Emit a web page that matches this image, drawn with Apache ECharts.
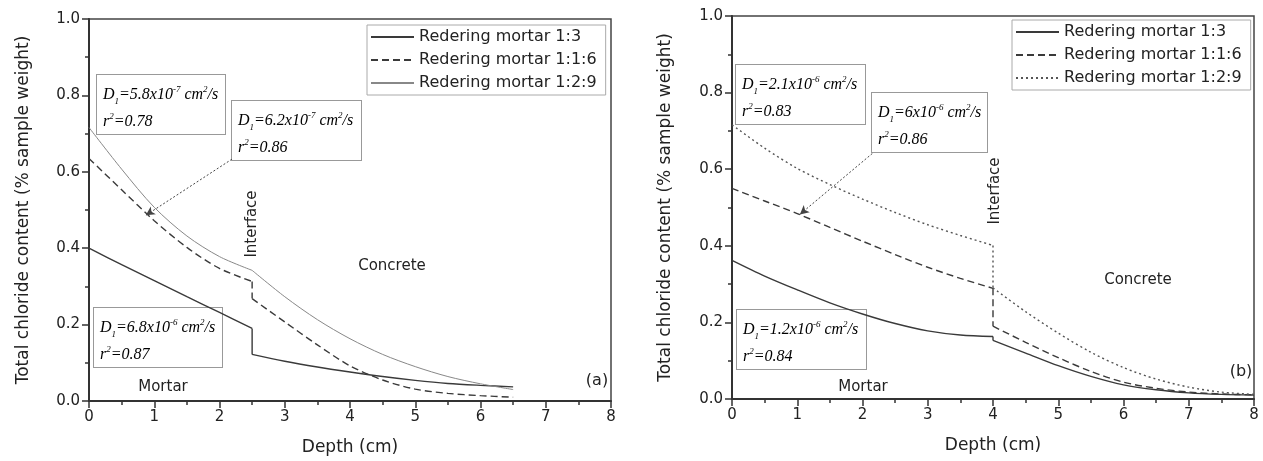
<!DOCTYPE html>
<html>
<head>
<meta charset="utf-8">
<script src="https://cdn.jsdelivr.net/npm/echarts@6/dist/echarts.min.js"></script>
<style>
  html, body { margin: 0; padding: 0; background: #fff; }
  #chart { width: 1263px; height: 461px; }
</style>
</head>
<body>
<div id="chart"></div>
<script>
// values (depth in cm, chloride in % sample weight)
// the repeated depth is the mortar/concrete interface
const depthA = [0, 0.5, 1, 1.5, 2, 2.5, 2.5, 3, 3.5, 4, 4.5, 5, 5.5, 6, 6.5];
const mortar13A  = [0.400, 0.357, 0.315, 0.273, 0.232, 0.190, 0.122, 0.104, 0.089, 0.076, 0.064, 0.054, 0.046, 0.041, 0.037];
const mortar116A = [0.635, 0.553, 0.472, 0.402, 0.347, 0.313, 0.268, 0.207, 0.147, 0.092, 0.055, 0.031, 0.020, 0.014, 0.010];
const mortar129A = [0.716, 0.607, 0.507, 0.432, 0.378, 0.342, 0.342, 0.273, 0.213, 0.163, 0.122, 0.090, 0.064, 0.045, 0.030];

const depthB = [0, 0.5, 1, 1.5, 2, 2.5, 3, 3.5, 4, 4, 4.5, 5, 5.5, 6, 6.5, 7, 7.5, 8];
const mortar13B  = [0.362, 0.321, 0.285, 0.251, 0.222, 0.197, 0.178, 0.167, 0.163, 0.153, 0.120, 0.087, 0.059, 0.037, 0.024, 0.016, 0.012, 0.010];
const mortar116B = [0.550, 0.517, 0.484, 0.448, 0.412, 0.377, 0.344, 0.315, 0.289, 0.190, 0.148, 0.108, 0.072, 0.044, 0.028, 0.018, 0.013, 0.011];
const mortar129B = [0.716, 0.655, 0.602, 0.560, 0.522, 0.487, 0.455, 0.427, 0.401, 0.290, 0.228, 0.172, 0.122, 0.082, 0.052, 0.031, 0.018, 0.012];

const seriesNames = ['Redering mortar 1:3', 'Redering mortar 1:1:6', 'Redering mortar 1:2:9'];
const yTickLabels = ['0.0', '0.2', '0.4', '0.6', '0.8', '1.0'];

// arrow from the middle box to the 1:1:6 curve, [x, y] in data units
const arrowA = [[2.19, 0.633], [0.87, 0.486]];
const arrowB = [[2.15, 0.641], [1.04, 0.482]];

const SANS = 'DejaVu Sans';
const SERIF = 'Liberation Serif';
const INK = '#222';

const lineStyles = [
  { color: '#3a3a3a', width: 1.4, type: 'solid' },
  { color: '#3a3a3a', width: 1.4, type: [7, 4] },
  { color: '#888', width: 1, type: 'solid' },       // 1:2:9 in panel (a)
  { color: '#555', width: 1.4, type: [2, 3] }       // 1:2:9 in panel (b)
];

// mortar part, break, concrete part -> each side gets its own smoothing
function splitAtInterface(xs, ys) {
  const cut = xs.findIndex((x, i) => i > 0 && x === xs[i - 1]);
  const pts = xs.map((x, i) => [x, ys[i]]);
  return {
    curve: [...pts.slice(0, cut), [xs[cut], null], ...pts.slice(cut)],
    step: [pts[cut - 1], pts[cut]]
  };
}

function makeAxes(idx) {
  const common = {
    gridIndex: idx,
    type: 'value',
    nameLocation: 'middle',
    nameTextStyle: { fontFamily: SANS, fontSize: 17, color: INK },
    axisLine: { show: true, onZero: false, lineStyle: { color: '#333', width: 2 } },
    axisTick: { show: true, length: 7, lineStyle: { color: '#333', width: 1.5 } },
    minorTick: { show: true, splitNumber: 2, length: 4, lineStyle: { color: '#333', width: 1.5 } },
    splitLine: { show: false },
    minorSplitLine: { show: false },
    axisLabel: { fontFamily: SANS, fontSize: 15, color: INK, margin: 9 }
  };
  const x = Object.assign({}, common, {
    min: 0, max: 8, interval: 1,
    name: 'Depth (cm)', nameGap: 38
  });
  const y = Object.assign({}, common, {
    min: 0, max: 1, interval: 0.2,
    name: 'Total chloride content (% sample weight)', nameGap: idx === 0 ? 57 : 58,
    axisLabel: Object.assign({}, common.axisLabel, {
      formatter: v => yTickLabels[Math.round(v / 0.2)]
    })
  });
  return { x, y };
}

function makeSeries(idx, suffix, xs, columns, styles, arrow) {
  const out = [];
  columns.forEach((ys, k) => {
    const parts = splitAtInterface(xs, ys);
    const base = {
      type: 'line',
      name: seriesNames[k] + suffix,
      xAxisIndex: idx,
      yAxisIndex: idx,
      symbol: 'none',
      silent: true,
      animation: false,
      lineStyle: styles[k]
    };
    const main = Object.assign({}, base, { data: parts.curve, smooth: 0.3, connectNulls: false });
    if (k === 1) {
      main.markLine = {
        silent: true,
        symbol: ['none', 'arrow'],
        symbolSize: [7, 9],
        label: { show: false },
        lineStyle: { color: '#444', width: 1, type: [2, 2] },
        data: [[{ coord: arrow[0] }, { coord: arrow[1] }]]
      };
    }
    out.push(main);
    out.push(Object.assign({}, base, { data: parts.step, smooth: false }));
  });
  return out;
}

function makeLegend(left, top, suffix) {
  return {
    orient: 'vertical',
    left, top,
    data: seriesNames.map(n => n + suffix),
    formatter: name => name.replace(suffix, ''),
    selectedMode: false,
    itemWidth: 43,
    itemHeight: 14,
    itemGap: 3,
    padding: [2, 9, 2, 3],
    borderColor: '#aaa',
    borderWidth: 1,
    backgroundColor: '#fff',
    itemStyle: { opacity: 0 },
    textStyle: { fontFamily: SANS, fontSize: 16, lineHeight: 20, color: INK }
  };
}

const richStyles = {
  d: { fontFamily: SERIF, fontStyle: 'italic', fontSize: 16, lineHeight: 27, color: '#3c3c3c' },
  sup: { fontFamily: SERIF, fontStyle: 'italic', fontSize: 9, lineHeight: 14, verticalAlign: 'top', padding: [4, 0, 0, 0], color: '#3c3c3c' },
  sub: { fontFamily: SERIF, fontStyle: 'italic', fontSize: 9, lineHeight: 14, verticalAlign: 'bottom', padding: [0, 0, 2, 0], color: '#3c3c3c' }
};

function fitBox(x, y, w, h, coef, exp, r2) {
  const text = '{d|D}{sub|1}{d|=' + coef + 'x10}{sup|' + exp + '}{d| cm}{sup|2}{d|/s}\n' +
    '{d|r}{sup|2}{d|=' + r2 + '}';
  return {
    type: 'text',
    x, y,
    z: 1,
    style: {
      text,
      rich: richStyles,
      backgroundColor: '#fff',
      borderColor: '#999',
      borderWidth: 1,
      padding: [6, 5, 2, 6],
      width: w - 11,
      height: h - 8
    }
  };
}

function label(x, y, text, size, rotate) {
  return {
    type: 'text',
    x, y,
    rotation: rotate ? Math.PI / 2 : 0,
    z: 5,
    style: {
      text,
      fontFamily: SANS,
      fontSize: size,
      fill: INK,
      align: 'center',
      verticalAlign: 'middle'
    }
  };
}

const axesA = makeAxes(0);
const axesB = makeAxes(1);

const option = {
  backgroundColor: '#fff',
  animation: false,
  grid: [
    { left: 89, top: 19, width: 522, height: 383, show: true, borderColor: '#444', borderWidth: 1.5, backgroundColor: 'transparent' },
    { left: 732, top: 16, width: 522, height: 383, show: true, borderColor: '#444', borderWidth: 1.5, backgroundColor: 'transparent' }
  ],
  xAxis: [axesA.x, axesB.x],
  yAxis: [axesA.y, axesB.y],
  legend: [makeLegend(367, 25, ' (a)'), makeLegend(1012, 20, ' (b)')],
  series: [
    ...makeSeries(0, ' (a)', depthA, [mortar13A, mortar116A, mortar129A],
      [lineStyles[0], lineStyles[1], lineStyles[2]], arrowA),
    ...makeSeries(1, ' (b)', depthB, [mortar13B, mortar116B, mortar129B],
      [lineStyles[0], lineStyles[1], lineStyles[3]], arrowB)
  ],
  graphic: [
    fitBox(97, 75, 128, 59, '5.8', '-7', '0.78'),
    fitBox(232, 101, 129, 59, '6.2', '-7', '0.86'),
    fitBox(94, 308, 128, 59, '6.8', '-6', '0.87'),
    fitBox(736, 65, 129, 59, '2.1', '-6', '0.83'),
    fitBox(872, 93, 115, 59, '6', '-6', '0.86'),
    fitBox(737, 310, 129, 59, '1.2', '-6', '0.84'),
    label(252, 224, 'Interface', 15, true),
    label(995, 191, 'Interface', 15, true),
    label(392, 266, 'Concrete', 15, false),
    label(1138, 280, 'Concrete', 15, false),
    label(163, 387, 'Mortar', 15, false),
    label(863, 387, 'Mortar', 15, false),
    label(597, 381, '(a)', 16, false),
    label(1241, 372, '(b)', 16, false)
  ]
};

const chart = echarts.init(document.getElementById('chart'), null, { renderer: 'canvas' });
chart.setOption(option);
</script>
</body>
</html>
